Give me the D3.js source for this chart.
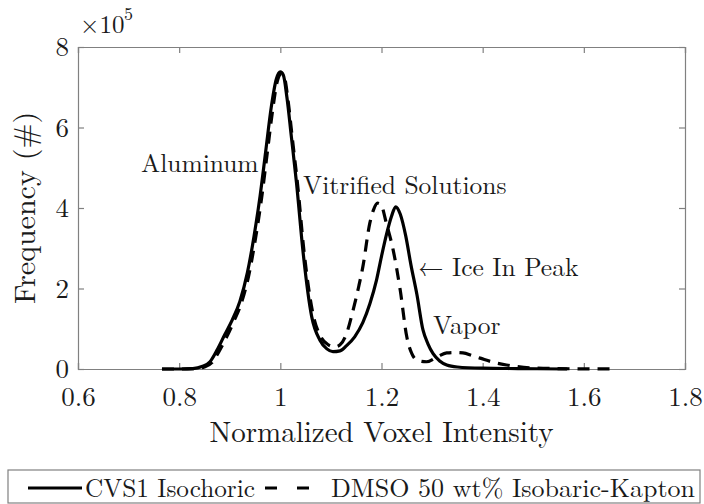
<!DOCTYPE html>
<html>
<head>
<meta charset="utf-8">
<script src="https://cdn.jsdelivr.net/npm/d3@7"></script>
<style>
  body { margin: 0; background: #fff; }
</style>
</head>
<body>
<script>
// values (frequency in units of 1e5)
var cvsX = [0.766, 0.80, 0.827, 0.845, 0.861, 0.874, 0.89, 0.905, 0.92, 0.935, 0.948, 0.96, 0.971, 0.982, 0.992, 1.0, 1.006, 1.013, 1.022, 1.032, 1.045, 1.062, 1.078, 1.092, 1.104, 1.118, 1.131, 1.147, 1.163, 1.177, 1.19, 1.20, 1.21, 1.22, 1.228, 1.237, 1.248, 1.258, 1.27, 1.282, 1.292, 1.302, 1.315, 1.329, 1.35, 1.40, 1.47, 1.567];
var cvsY = [0, 0, 0.01, 0.06, 0.18, 0.45, 0.85, 1.22, 1.68, 2.4, 3.3, 4.3, 5.4, 6.5, 7.2, 7.38, 7.3, 6.75, 5.75, 4.62, 2.9, 1.3, 0.72, 0.5, 0.43, 0.45, 0.58, 0.8, 1.15, 1.62, 2.2, 2.8, 3.35, 3.8, 4.03, 3.85, 3.3, 2.6, 1.85, 0.97, 0.62, 0.38, 0.2, 0.1, 0.05, 0.02, 0.01, 0];

var dmsoX = [0.766, 0.80, 0.83, 0.85, 0.865, 0.878, 0.894, 0.908, 0.923, 0.938, 0.951, 0.963, 0.974, 0.985, 0.994, 1.002, 1.008, 1.015, 1.024, 1.034, 1.047, 1.064, 1.08, 1.095, 1.108, 1.118, 1.13, 1.144, 1.155, 1.163, 1.177, 1.185, 1.192, 1.199, 1.21, 1.223, 1.237, 1.25, 1.26, 1.27, 1.289, 1.31, 1.329, 1.345, 1.361, 1.38, 1.395, 1.42, 1.447, 1.494, 1.55, 1.666];
var dmsoY = [0, 0, 0.01, 0.05, 0.16, 0.42, 0.8, 1.18, 1.64, 2.35, 3.25, 4.25, 5.35, 6.45, 7.15, 7.33, 7.25, 6.7, 5.7, 4.6, 2.9, 1.4, 0.8, 0.6, 0.55, 0.6, 0.85, 1.47, 2.05, 2.53, 3.63, 3.98, 4.12, 4.08, 3.6, 2.96, 1.96, 0.8, 0.38, 0.22, 0.18, 0.3, 0.4, 0.41, 0.4, 0.33, 0.27, 0.17, 0.1, 0.03, 0.01, 0];

var xTicks = [0.6, 0.8, 1, 1.2, 1.4, 1.6, 1.8];
var yTicks = [0, 2, 4, 6, 8];
var seriesNames = ["CVS1 Isochoric", "DMSO 50 wt% Isobaric-Kapton"];

var W = 704, H = 504;
var mLeft = 78, mRight = 685, mTop = 47, mBottom = 369;
var tex = "Latin Modern Roman, serif";
var ink = "#1a1a1a";

var svg = d3.select("body").append("svg")
    .attr("width", W)
    .attr("height", H);

var x = d3.scaleLinear().domain([0.6, 1.8]).range([mLeft, mRight]);
var y = d3.scaleLinear().domain([0, 8]).range([mBottom, mTop]);

var axisCol = "#808080";

// axes with inward ticks (box style)
var xb = svg.append("g").attr("transform", "translate(0," + mBottom + ")")
    .call(d3.axisBottom(x).tickValues(xTicks).tickSize(-6).tickFormat(d3.format("~g")));
var xt = svg.append("g").attr("transform", "translate(0," + mTop + ")")
    .call(d3.axisTop(x).tickValues(xTicks).tickSize(-6).tickFormat(""));
var yl = svg.append("g").attr("transform", "translate(" + mLeft + ",0)")
    .call(d3.axisLeft(y).tickValues(yTicks).tickSize(-6).tickPadding(9).tickFormat(d3.format("d")));
var yr = svg.append("g").attr("transform", "translate(" + mRight + ",0)")
    .call(d3.axisRight(y).tickValues(yTicks).tickSize(-6).tickFormat(""));

[xb, xt, yl, yr].forEach(function (g) {
    g.selectAll("path").attr("stroke", axisCol).attr("stroke-width", 1.2);
    g.selectAll("line").attr("stroke", axisCol).attr("stroke-width", 1.2);
    g.selectAll("text").style("font-family", tex).style("font-size", "27px").attr("fill", ink);
});
xb.selectAll("text").attr("y", 37).attr("dy", 0);

// multiplier
svg.append("text").attr("x", 80).attr("y", 33)
    .style("font-family", tex).style("font-size", "25px").attr("fill", ink).text("\u00d710");
svg.append("text").attr("x", 124).attr("y", 20)
    .style("font-family", tex).style("font-size", "18px").attr("fill", ink).text("5");

// axis titles
svg.append("text").attr("x", (mLeft + mRight) / 2).attr("y", 442)
    .attr("text-anchor", "middle").style("font-family", tex).style("font-size", "29px").attr("fill", ink)
    .text("Normalized Voxel Intensity");
svg.append("text").attr("transform", "translate(35," + ((mTop + mBottom) / 2) + ") rotate(-90)")
    .attr("text-anchor", "middle").style("font-family", tex).style("font-size", "30px").attr("fill", ink)
    .text("Frequency (#)");

var line = d3.line()
    .x(function (d) { return x(d[0]); })
    .y(function (d) { return y(d[1]); })
    .curve(d3.curveMonotoneX);

var cvs = d3.zip(cvsX, cvsY);
var dmso = d3.zip(dmsoX, dmsoY);

svg.append("path").datum(dmso)
    .attr("d", line)
    .attr("fill", "none")
    .attr("stroke", "#000")
    .attr("stroke-width", 3.2)
    .attr("stroke-dasharray", "12,8");

svg.append("path").datum(cvs)
    .attr("d", line)
    .attr("fill", "none")
    .attr("stroke", "#000")
    .attr("stroke-width", 3.2);

// annotations
var notes = [
    { t: "Aluminum", x: 141, y: 172 },
    { t: "Vitrified Solutions", x: 303, y: 194 },
    { t: "\u2190 Ice In Peak", x: 418, y: 276 },
    { t: "Vapor", x: 433, y: 334 }
];
svg.selectAll("text.note").data(notes).enter().append("text")
    .attr("class", "note")
    .attr("x", function (d) { return d.x; })
    .attr("y", function (d) { return d.y; })
    .style("font-family", tex)
    .style("font-size", "25.5px")
    .attr("fill", ink)
    .text(function (d) { return d.t; });

// legend
svg.append("rect").attr("x", 8).attr("y", 470).attr("width", 692).attr("height", 33)
    .attr("fill", "#fff").attr("stroke", axisCol).attr("stroke-width", 1.2);
svg.append("line").attr("x1", 28).attr("x2", 82).attr("y1", 488).attr("y2", 488)
    .attr("stroke", "#000").attr("stroke-width", 3.2);
svg.append("line").attr("x1", 265).attr("x2", 316).attr("y1", 488).attr("y2", 488)
    .attr("stroke", "#000").attr("stroke-width", 3.2).attr("stroke-dasharray", "12,20");
svg.append("text").attr("x", 85).attr("y", 497)
    .style("font-family", tex).style("font-size", "26px").attr("fill", ink)
    .attr("textLength", 170).attr("lengthAdjust", "spacingAndGlyphs")
    .text(seriesNames[0]);
svg.append("text").attr("x", 331).attr("y", 497)
    .style("font-family", tex).style("font-size", "26px").attr("fill", ink)
    .attr("textLength", 364).attr("lengthAdjust", "spacingAndGlyphs")
    .text(seriesNames[1]);
</script>
</body>
</html>
